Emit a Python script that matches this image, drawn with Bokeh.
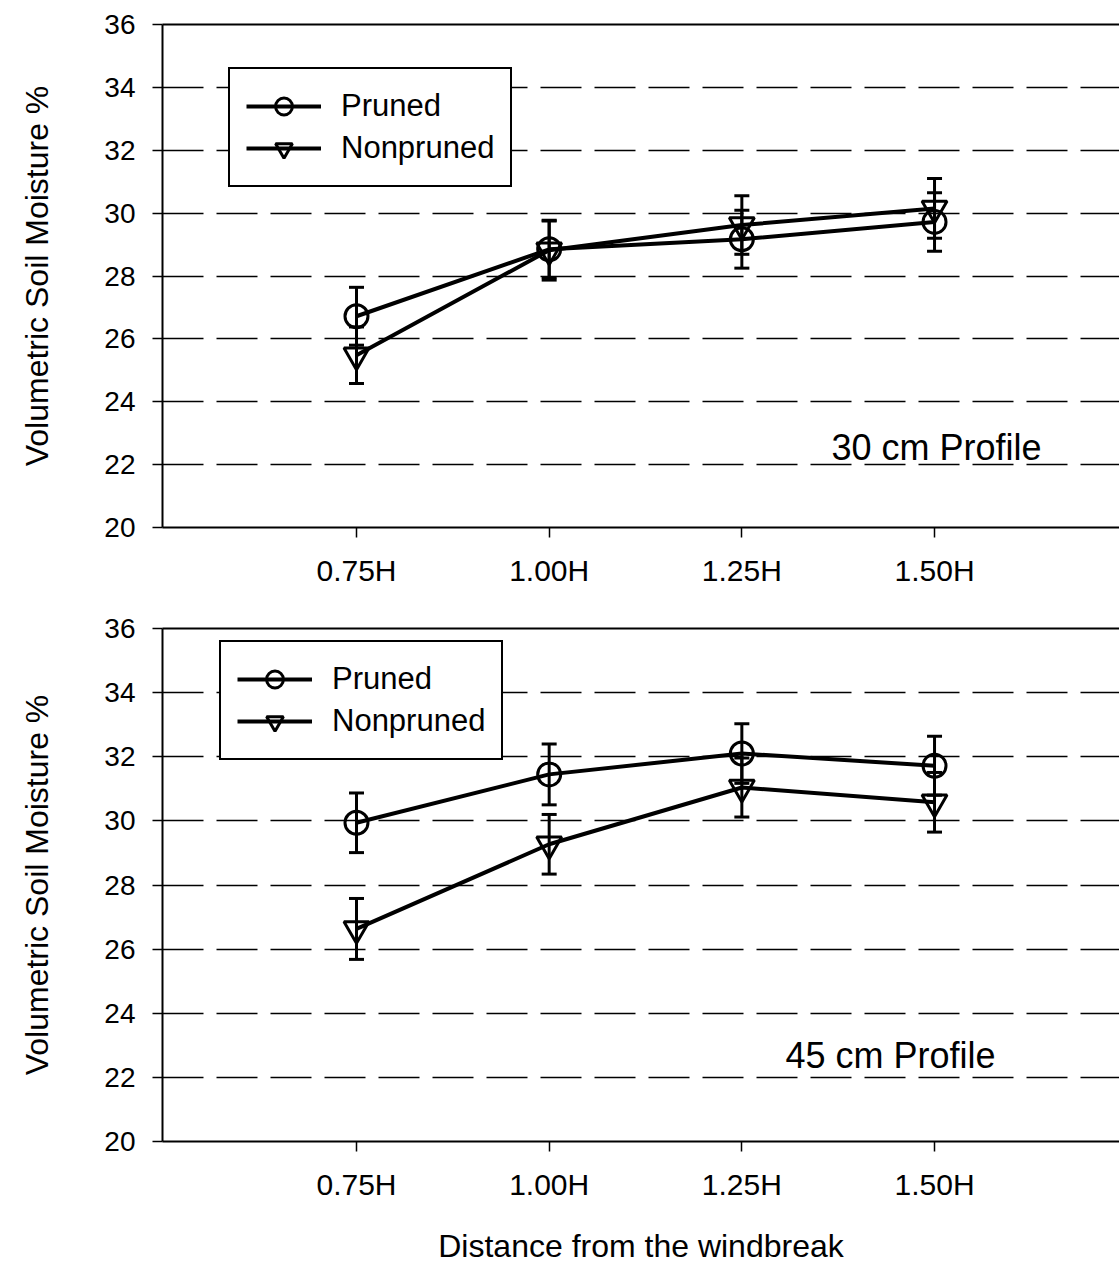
from bokeh.plotting import figure
from bokeh.models import (Range1d, FixedTicker, LinearAxis, Whisker, TeeHead,
                          ColumnDataSource, Legend, LegendItem, Label)
from bokeh.layouts import column
from bokeh.embed import file_html
from bokeh.resources import INLINE

# ---------------- data ----------------
positions = [0.75, 1.00, 1.25, 1.50]
tick_labels = ["0.75H", "1.00H", "1.25H", "1.50H"]
y_ticks = [20, 22, 24, 26, 28, 30, 32, 34, 36]

pruned_30 = [26.72, 28.85, 29.17, 29.72]
pruned_30_err = [0.92, 0.90, 0.92, 0.93]
nonpruned_30 = [25.48, 28.82, 29.62, 30.15]
nonpruned_30_err = [0.90, 0.95, 0.93, 0.95]

pruned_45 = [29.94, 31.45, 32.10, 31.72]
pruned_45_err = [0.93, 0.95, 0.93, 0.92]
nonpruned_45 = [26.63, 29.27, 31.04, 30.58]
nonpruned_45_err = [0.95, 0.93, 0.92, 0.93]

series_names = ["Pruned", "Nonpruned"]
profile_labels = ["30 cm Profile", "45 cm Profile"]
y_label = "Volumetric Soil Moisture %"
x_label = "Distance from the windbreak"

FONT = "Liberation Sans"


def make_panel(height, border_top, border_bottom, pruned, pruned_err,
               nonpruned, nonpruned_err, profile, profile_xy, legend_loc,
               show_xlabel):
    p = figure(width=1119, height=height, output_backend="svg",
               toolbar_location=None,
               x_range=Range1d(0.4983, 1.7400), y_range=Range1d(20, 36),
               min_border_left=162, min_border_right=0,
               min_border_top=border_top, min_border_bottom=border_bottom)
    p.outline_line_color = None
    p.background_fill_color = "white"
    p.border_fill_color = "white"

    # axes
    xa = p.xaxis[0]
    xa.ticker = FixedTicker(ticks=positions)
    xa.major_label_overrides = {pos: lab for pos, lab in zip(positions, tick_labels)}
    xa.major_label_text_font = FONT
    xa.major_label_text_font_size = "30px"
    xa.major_label_text_color = "black"
    xa.major_tick_out = 10
    xa.major_tick_in = 0
    xa.major_tick_line_width = 1.5
    xa.minor_tick_line_color = None
    xa.axis_line_width = 2
    xa.axis_line_color = "black"
    xa.major_label_standoff = 16
    if show_xlabel:
        xa.axis_label = x_label
        xa.axis_label_text_font = FONT
        xa.axis_label_text_font_size = "32px"
        xa.axis_label_text_font_style = "normal"
        xa.axis_label_text_color = "black"
        xa.axis_label_standoff = 24

    ya = p.yaxis[0]
    ya.ticker = FixedTicker(ticks=y_ticks)
    ya.major_label_text_font = FONT
    ya.major_label_text_font_size = "28px"
    ya.major_label_text_color = "black"
    ya.major_tick_out = 10
    ya.major_tick_in = 0
    ya.major_tick_line_width = 1.5
    ya.minor_tick_line_color = None
    ya.axis_line_width = 2
    ya.axis_line_color = "black"
    ya.major_label_standoff = 17
    ya.axis_label = y_label
    ya.axis_label_text_font = FONT
    ya.axis_label_text_font_size = "32px"
    ya.axis_label_text_font_style = "normal"
    ya.axis_label_text_color = "black"
    ya.axis_label_standoff = 46

    # top border
    top = LinearAxis(ticker=FixedTicker(ticks=[]), major_tick_line_color=None,
                     minor_tick_line_color=None, axis_line_width=2,
                     axis_line_color="black", major_label_text_font_size="0px")
    p.add_layout(top, "above")

    # grid
    p.xgrid.visible = False
    p.ygrid.ticker = FixedTicker(ticks=y_ticks[1:-1])
    p.ygrid.grid_line_color = "black"
    p.ygrid.grid_line_width = 1.5
    p.ygrid.grid_line_dash = "41 13"

    items = []
    for name, vals, errs, marker in [
        (series_names[0], pruned, pruned_err, "circle"),
        (series_names[1], nonpruned, nonpruned_err, "inverted_triangle"),
    ]:
        src = ColumnDataSource(dict(
            x=positions, y=vals,
            upper=[v + e for v, e in zip(vals, errs)],
            lower=[v - e for v, e in zip(vals, errs)]))
        w = Whisker(source=src, base="x", upper="upper", lower="lower",
                    line_color="black", line_width=3,
                    upper_head=TeeHead(size=15, line_width=3, line_color="black"),
                    lower_head=TeeHead(size=15, line_width=3, line_color="black"))
        p.add_layout(w)
        lr = p.line("x", "y", source=src, line_color="black", line_width=4)
        sr = p.scatter("x", "y", source=src, marker=marker,
                       size=23 if marker == "circle" else 25,
                       fill_color=None, line_color="black", line_width=3)
        items.append(LegendItem(label=name, renderers=[lr, sr]))

    legend = Legend(items=items, location=legend_loc,
                    label_text_font=FONT, label_text_font_size="31px",
                    label_text_color="black",
                    glyph_width=75, glyph_height=42, label_height=42,
                    label_standoff=20, spacing=0, padding=16, margin=0,
                    border_line_color="black", border_line_width=2,
                    border_line_alpha=1.0,
                    background_fill_color="white", background_fill_alpha=1.0)
    p.add_layout(legend)

    p.add_layout(Label(x=profile_xy[0], y=profile_xy[1], text=profile,
                       text_font=FONT, text_font_size="36px",
                       text_align="center", text_baseline="alphabetic",
                       text_color="black"))
    return p


p1 = make_panel(600, 24, 73, pruned_30, pruned_30_err, nonpruned_30,
                nonpruned_30_err, profile_labels[0], (1.5026, 22.545),
                (66, 340), False)
p2 = make_panel(666, 28, 123, pruned_45, pruned_45_err, nonpruned_45,
                nonpruned_45_err, profile_labels[1], (1.443, 22.67),
                (57, 381), True)

layout = column(p1, p2, spacing=0)
open("out.html", "w").write(file_html(layout, INLINE))
